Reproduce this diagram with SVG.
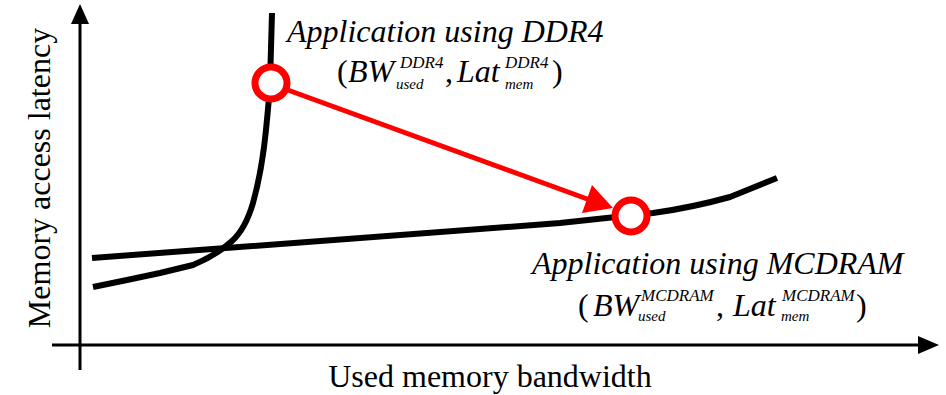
<svg xmlns="http://www.w3.org/2000/svg" width="946" height="395" viewBox="0 0 946 395">
<style>
.t{font-family:"Liberation Serif","Times New Roman",serif;fill:#000}
.i{font-style:italic}
.m{font-size:32px}
.sp{font-size:17px}
.sb{font-size:15px}
.ax{stroke:#000;stroke-width:3;fill:none}
.cv{stroke:#000;stroke-width:6;fill:none;stroke-linejoin:round;stroke-linecap:butt}
.pt{stroke:#ff0000;stroke-width:7;fill:#fff}
</style>
<defs>
<marker id="ah" viewBox="0 0 10 10" refX="10" refY="5" markerWidth="6" markerHeight="6" markerUnits="userSpaceOnUse" orient="auto"><path d="M0,0 L10,5 L0,10 z" fill="#000"/></marker>
</defs>
<g id="axes">
<line class="ax" x1="80" y1="22" x2="80" y2="370"/>
<polygon points="80,4 71,24 89,24" fill="#000"/>
<line class="ax" x1="52" y1="345" x2="920" y2="345"/>
<polygon points="939,345 918,336 918,354" fill="#000"/>
<text class="t m" x="490" y="387" text-anchor="middle">Used memory bandwidth</text>
<text class="t m" transform="translate(50,178) rotate(-90)" text-anchor="middle">Memory access latency</text>
</g>
<g id="curves">
<path class="cv" d="M93,287 L127,280 L160,273 L193,265 C210,258 222,250 232,241 C242,232 248,220 253,203 C258,185 263,160 266,130 C268,110 269,100 270,83 L272,13"/>
<path class="cv" d="M92,258 L560,223 L653,213 C690,208 712,202 730,197 L777,178"/>
</g>
<g id="connectors">
<line x1="285" y1="89" x2="590" y2="200" stroke="#ff0000" stroke-width="5"/>
<polygon points="613,208 592,185 582,213" fill="#ff0000"/>
</g>
<g id="ddr4">
<circle class="pt" cx="271" cy="83" r="16"/>
<text class="t i m" x="287" y="42">Application using DDR4</text>
<text class="t m" x="337" y="82">(</text>
<text class="t i m" x="348" y="82">BW</text>
<text class="t i sp" x="400" y="68">DDR4</text>
<text class="t i sb" x="396" y="89">used</text>
<text class="t m" x="445" y="82">,</text>
<text class="t i m" x="457" y="82">Lat</text>
<text class="t i sp" x="505" y="68">DDR4</text>
<text class="t i sb" x="505" y="89">mem</text>
<text class="t m" x="552" y="82">)</text>
</g>
<g id="mcdram">
<circle class="pt" cx="631" cy="216" r="16"/>
<text class="t i m" x="532" y="274">Application using MCDRAM</text>
<text class="t m" x="578" y="316">(</text>
<text class="t i m" x="593" y="316">BW</text>
<text class="t i sp" x="641" y="301">MCDRAM</text>
<text class="t i sb" x="638" y="321">used</text>
<text class="t m" x="716" y="316">,</text>
<text class="t i m" x="733" y="316">Lat</text>
<text class="t i sp" x="782" y="301">MCDRAM</text>
<text class="t i sb" x="781" y="321">mem</text>
<text class="t m" x="856" y="316">)</text>
</g>
</svg>
